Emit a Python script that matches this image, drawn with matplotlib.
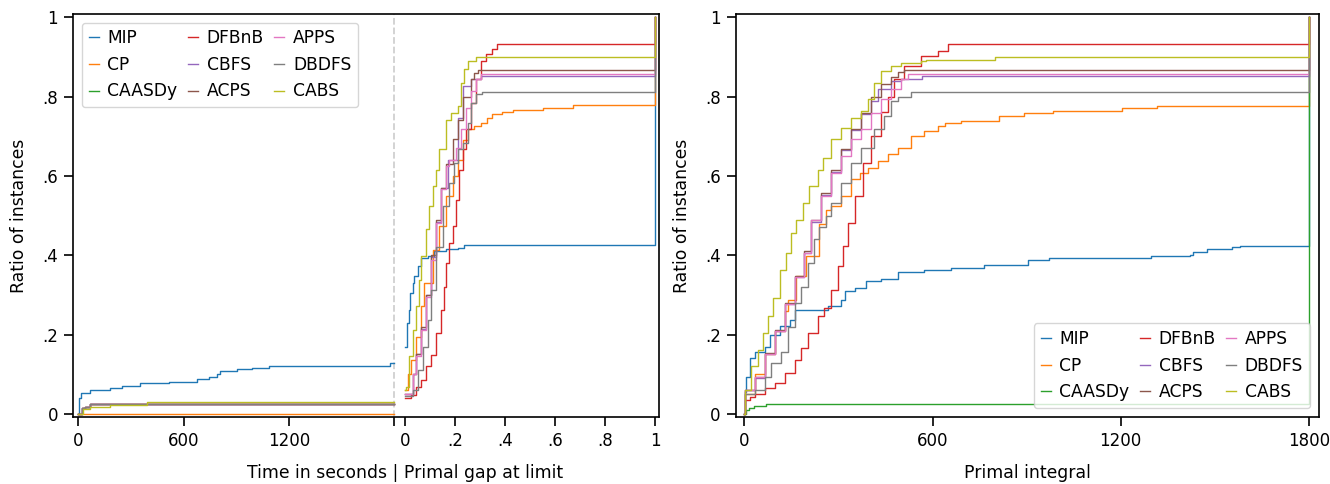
import matplotlib.pyplot as plt

plt.rcParams['font.family'] = ['DejaVu Sans']
plt.rcParams['font.size'] = 12

names = ['MIP', 'CP', 'CAASDy', 'DFBnB', 'CBFS', 'ACPS', 'APPS', 'DBDFS', 'CABS']
colors = ['C0', 'C1', 'C2', 'C3', 'C4', 'C5', 'C6', 'C7', 'C8']

# left panel, part 1: time in seconds (0..1800)
mip_t = [0, 5, 15, 68, 182, 249, 353, 515, 676, 743, 790, 809, 904, 990, 1085, 1778, 1800]
mip_t_y = [0, .04, .054, .061, .066, .07, .077, .081, .088, .094, .1, .107, .113, .117, .122, .128, .128]
cp_t = [0, 1800]
cp_t_y = [0, 0]
few_t = [0, 21, 40, 68, 1800]
few_t_y = [0, .014, .018, .024, .024]
cabs_t = [0, 30, 68, 182, 391, 1800]
cabs_t_y = [0, .012, .018, .022, .029, .029]

# left panel, part 2: primal gap at limit (0..1)
mip_g = [0, .006, .014, .02, .03, .037, .05, .064, .09, .117, .163, .21, .236, 1.0]
mip_g_y = [.17, .23, .263, .305, .33, .347, .372, .393, .399, .41, .416, .418, .425, 1.0]
cp_g = [0, .012, .024, .044, .064, .077, .11, .137, .163, .19, .21, .23, .25, .276, .303, .329, .349, .389, .43, .55, .67, 1.0]
cp_g_y = [.06, .1, .136, .195, .271, .33, .414, .473, .549, .599, .641, .69, .717, .725, .734, .747, .755, .761, .765, .772, .778, 1.0]
dfbnb_g = [0, .024, .044, .064, .084, .104, .124, .143, .157, .163, .177, .19, .203, .216, .23, .243, .263, .283, .303, .323, .349, .369, 1.0]
dfbnb_g_y = [.04, .048, .069, .086, .12, .149, .204, .263, .321, .38, .431, .473, .54, .616, .667, .717, .785, .843, .89, .907, .919, .933, 1.0]
cbfs_g = [0, .03, .044, .064, .084, .104, .124, .143, .17, .21, .23, .263, .303, 1.0]
cbfs_g_y = [.05, .1, .15, .215, .3, .395, .485, .57, .641, .747, .826, .843, .852, 1.0]
acps_g = [0, .03, .044, .064, .084, .104, .124, .143, .163, .19, .21, .23, .263, .276, .29, 1.0]
acps_g_y = [.05, .1, .15, .22, .3, .4, .49, .57, .63, .692, .742, .80, .843, .86, .866, 1.0]
apps_g = [0, .03, .044, .064, .084, .104, .124, .143, .163, .177, .203, .223, .243, .263, .283, .303, 1.0]
apps_g_y = [.05, .1, .145, .212, .296, .389, .481, .566, .625, .64, .67, .717, .772, .814, .843, .857, 1.0]
dbdfs_g = [0, .03, .05, .07, .09, .104, .124, .15, .177, .197, .21, .23, .25, .263, .283, .309, 1.0]
dbdfs_g_y = [.045, .06, .111, .17, .237, .313, .422, .523, .582, .633, .667, .684, .734, .785, .806, .812, 1.0]
cabs_g = [0, .004, .017, .03, .044, .057, .064, .084, .097, .11, .124, .137, .163, .183, .21, .223, .236, .25, .283, 1.0]
cabs_g_y = [.06, .069, .145, .212, .271, .338, .397, .465, .523, .574, .616, .667, .742, .759, .776, .835, .869, .89, .899, 1.0]

# right panel: primal integral
mip_p = [0, 2, 5, 16, 32, 64, 80, 112, 144, 160, 266, 308, 319, 351, 388, 436, 489, 574, 659, 763, 904, 972, 1297, 1420, 1432, 1475, 1555, 1579, 1800]
mip_p_y = [0, .056, .094, .14, .157, .17, .2, .222, .237, .261, .273, .288, .309, .317, .334, .34, .357, .362, .368, .376, .388, .392, .397, .40, .409, .415, .42, .424, 1.0]
cp_p = [0, 2, 32, 64, 96, 128, 138, 165, 197, 239, 261, 276, 308, 340, 367, 393, 425, 457, 489, 532, 574, 617, 640, 690, 812, 892, 984, 1205, 1315, 1800]
cp_p_y = [0, .05, .1, .15, .21, .26, .288, .347, .397, .48, .515, .523, .549, .591, .608, .62, .637, .654, .671, .70, .713, .725, .733, .739, .75, .758, .764, .771, .777, 1.0]
caasdy_p = [0, 5, 15, 30, 70, 1800]
caasdy_p_y = [0, .01, .015, .02, .025, 1.0]
dfbnb_p = [0, 2, 16, 32, 64, 96, 128, 160, 181, 202, 234, 255, 276, 298, 314, 330, 351, 377, 404, 436, 457, 478, 510, 563, 617, 650, 1800]
dfbnb_p_y = [0, .035, .042, .05, .065, .077, .103, .136, .166, .204, .246, .267, .313, .372, .423, .482, .549, .633, .70, .76, .80, .843, .877, .902, .915, .932, 1.0]
cbfs_p = [0, 2, 32, 64, 96, 128, 160, 191, 213, 245, 276, 308, 340, 372, 404, 425, 468, 500, 567, 1800]
cbfs_p_y = [0, .06, .09, .15, .21, .278, .345, .405, .485, .552, .61, .665, .715, .757, .79, .82, .839, .845, .852, 1.0]
acps_p = [0, 2, 32, 64, 96, 128, 160, 191, 213, 245, 276, 308, 340, 372, 404, 436, 468, 489, 510, 1800]
acps_p_y = [0, .06, .094, .153, .212, .28, .347, .41, .49, .557, .616, .667, .717, .759, .80, .831, .85, .862, .867, 1.0]
apps_p = [0, 2, 32, 64, 96, 128, 160, 191, 213, 245, 276, 308, 340, 372, 404, 436, 468, 500, 521, 1800]
apps_p_y = [0, .06, .092, .15, .21, .278, .345, .405, .49, .549, .608, .65, .692, .717, .759, .793, .818, .843, .857, 1.0]
dbdfs_p = [0, 2, 32, 64, 85, 117, 138, 160, 181, 202, 223, 239, 260, 276, 308, 340, 372, 414, 446, 468, 489, 532, 1800]
dbdfs_p_y = [0, .05, .06, .094, .128, .157, .22, .279, .321, .38, .44, .47, .5, .532, .582, .633, .671, .717, .751, .789, .80, .812, 1.0]
cabs_p = [0, 2, 21, 42, 59, 74, 90, 112, 133, 149, 165, 186, 207, 234, 250, 276, 308, 340, 372, 393, 414, 436, 468, 500, 563, 579, 800, 1800]
cabs_p_y = [0, .06, .12, .162, .204, .246, .292, .364, .406, .456, .49, .532, .574, .616, .646, .692, .721, .747, .763, .793, .835, .864, .877, .885, .89, .892, .899, 1.0]

time_curves = [(mip_t, mip_t_y), (cp_t, cp_t_y), (few_t, few_t_y), (few_t, few_t_y), (few_t, few_t_y),
               (few_t, few_t_y), (few_t, few_t_y), (few_t, few_t_y), (cabs_t, cabs_t_y)]
gap_curves = [(mip_g, mip_g_y), (cp_g, cp_g_y), None, (dfbnb_g, dfbnb_g_y), (cbfs_g, cbfs_g_y),
              (acps_g, acps_g_y), (apps_g, apps_g_y), (dbdfs_g, dbdfs_g_y), (cabs_g, cabs_g_y)]
pi_curves = [(mip_p, mip_p_y), (cp_p, cp_p_y), (caasdy_p, caasdy_p_y), (dfbnb_p, dfbnb_p_y), (cbfs_p, cbfs_p_y),
             (acps_p, acps_p_y), (apps_p, apps_p_y), (dbdfs_p, dbdfs_p_y), (cabs_p, cabs_p_y)]

TLIM = 1800
GAP_OFF = 1862   # where gap 0 sits on the shared axis
GAP_SCALE = 1425  # axis units per unit of gap
XL = (-28, 3307)

fig = plt.figure(figsize=(13.3, 4.84), dpi=100)
ax1 = fig.add_axes([0.0551, 0.139, 0.4402, 0.832])
ax2 = fig.add_axes([0.5534, 0.139, 0.438, 0.832])

lw = 1.0
for i, name in enumerate(names):
    xs, ys = time_curves[i]
    ax1.plot(xs, ys, drawstyle='steps-post', color=colors[i], lw=lw, label=name)
    if gap_curves[i] is not None:
        gs, gy = gap_curves[i]
        ax1.plot([GAP_OFF + GAP_SCALE * g for g in gs], gy, drawstyle='steps-post', color=colors[i], lw=lw)
    px, py = pi_curves[i]
    ax2.plot(px, py, drawstyle='steps-post', color=colors[i], lw=lw, label=name)

ax1.axvline(TLIM, color='#d0d0d0', ls='--', lw=1.3, zorder=0)

gap_ticks = [0, .2, .4, .6, .8, 1]
ax1.set_xticks([0, 600, 1200, 1800] + [GAP_OFF + GAP_SCALE * g for g in gap_ticks])
ax1.set_xticklabels(['0', '600', '1200', ''] + ['0', '.2', '.4', '.6', '.8', '1'])
ax1.set_xlim(*XL)
ax2.set_xticks([0, 600, 1200, 1800])
ax2.set_xticklabels(['0', '600', '1200', '1800'])
ax2.set_xlim(-27, 1831)

for ax in (ax1, ax2):
    ax.set_ylim(-0.007, 1.008)
    ax.set_yticks([0, .2, .4, .6, .8, 1])
    ax.set_yticklabels(['0', '.2', '.4', '.6', '.8', '1'])
    ax.set_ylabel('Ratio of instances', fontsize=12.4, labelpad=10)
    ax.tick_params(length=6.5, width=1.2, pad=4.5)
    for s in ax.spines.values():
        s.set_linewidth(1.2)

ax1.set_xlabel('Time in seconds | Primal gap at limit', fontsize=12.4)
ax1.xaxis.set_label_coords((GAP_OFF - XL[0]) / (XL[1] - XL[0]), -0.118)
ax2.set_xlabel('Primal integral', fontsize=12.4)
ax2.xaxis.set_label_coords(0.5, -0.118)

leg_kw = dict(ncol=3, handlelength=0.6, handletextpad=0.5, columnspacing=0.6, fontsize=12.3)
ax1.legend(loc='upper left', **leg_kw)
ax2.legend(loc='lower right', **leg_kw)

fig.savefig('out.png', dpi=100)
